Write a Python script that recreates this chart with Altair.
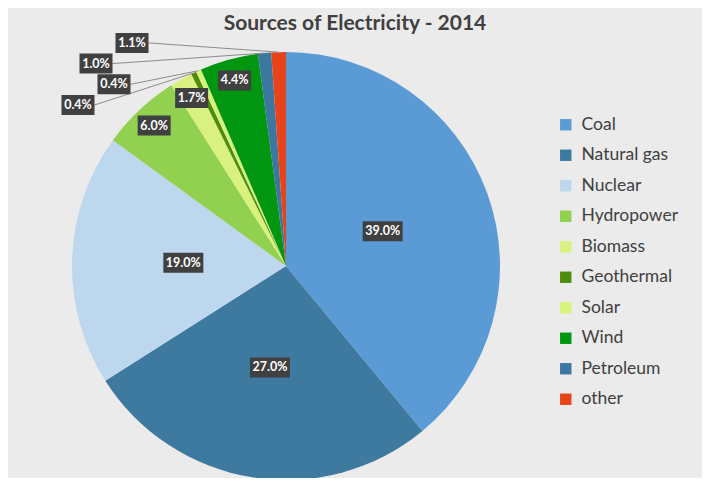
import altair as alt
import pandas as pd

# ---- data ----
categories = ["Coal", "Natural gas", "Nuclear", "Hydropower", "Biomass",
              "Geothermal", "Solar", "Wind", "Petroleum", "other"]
values = [39.0, 27.0, 19.0, 6.0, 1.7, 0.4, 0.4, 4.4, 1.0, 1.1]

# ---- style ----
colors = ["#5B9BD5", "#3E7AA0", "#BDD7EE", "#92D050", "#D9F27F",
          "#4E8C0C", "#D6F47C", "#00960F", "#3C77A0", "#E8441C"]

W, H = 694, 425
PAD_TOP = 45
CX, CY = 278, 213      # pie centre in view pixels
R = 214                # pie radius
FONT = "Lato"

df = pd.DataFrame({"source": categories, "value": values,
                   "order": list(range(len(categories)))})

arcs = alt.Chart(df).mark_arc(outerRadius=R, stroke=None).encode(
    theta=alt.Theta("value:Q", stack=True),
    order=alt.Order("order:Q"),
    color=alt.Color("source:N",
                    scale=alt.Scale(domain=categories, range=colors),
                    legend=alt.Legend(title=None, orient="none",
                                      legendX=549, legendY=63,
                                      symbolType="square", symbolSize=130,
                                      symbolStrokeWidth=0,
                                      labelFont=FONT, labelFontSize=17.5,
                                      labelColor="#404040", labelOffset=7,
                                      rowPadding=11.5)),
    x=alt.value(CX),
    y=alt.value(CY),
)

base = (
    alt.Chart(df)
    .transform_window(cum="sum(value)", sort=[alt.SortField("order")],
                      frame=[None, 0])
    .transform_joinaggregate(total="sum(value)")
    .transform_calculate(
        small="datum.value < 1.5",
        mid="(datum.cum - datum.value / 2) / datum.total * 2 * PI",
        label="format(datum.value, '.1f') + '%'",
    )
    .transform_window(k="row_number()", sort=[alt.SortField("order")],
                      groupby=["small"])
    .transform_calculate(
        lr=f"datum.value >= 10 ? {0.48 * R} : {0.9 * R}",
        kk="datum.k - 1",
    )
    .transform_calculate(
        px=f"datum.small ? {CX} - 208 + 36 * (datum.kk % 2) + 18 * floor(datum.kk / 2)"
           f" : {CX} + datum.lr * sin(datum.mid)",
        py=f"datum.small ? {CY} - 161 - 20.7 * datum.kk"
           f" : {CY} - datum.lr * cos(datum.mid)",
        bw="7 * length(datum.label) + 5",
        ex=f"{CX} + {R} * sin(datum.mid)",
        ey=f"{CY} - {R} * cos(datum.mid)",
    )
    .transform_calculate(
        x0="datum.px - datum.bw / 2",
        x1="datum.px + datum.bw / 2",
        y0="datum.py - 10",
        y1="datum.py + 10",
    )
)

leaders = base.transform_filter("datum.small").mark_rule(
    color="#8C8C8C", strokeWidth=1).encode(
    x=alt.X("x1:Q", scale=None), x2="ex:Q",
    y=alt.Y("py:Q", scale=None), y2="ey:Q",
)

boxes = base.mark_rect(color="#404040").encode(
    x=alt.X("x0:Q", scale=None), x2="x1:Q",
    y=alt.Y("y0:Q", scale=None), y2="y1:Q",
)

labels = base.mark_text(font=FONT, fontSize=12.5, fontWeight="bold",
                        color="white", baseline="middle", align="center").encode(
    x=alt.X("px:Q", scale=None),
    y=alt.Y("py:Q", scale=None),
    text="label:N",
)

chart = (
    alt.layer(arcs, leaders, boxes, labels)
    .properties(
        width=W, height=H,
        title=alt.Title("Sources of Electricity - 2014", font=FONT,
                        fontSize=21, fontWeight="bold", color="#404040",
                        anchor="middle", offset=-1),
        autosize=alt.AutoSizeParams(type="none"),
        padding={"left": 0, "top": PAD_TOP, "right": 0, "bottom": 0},
    )
    .configure(background="#EBEBEB")
    .configure_view(stroke=None)
)

chart.save("out.html", embed_options={"renderer": "svg", "actions": False})
